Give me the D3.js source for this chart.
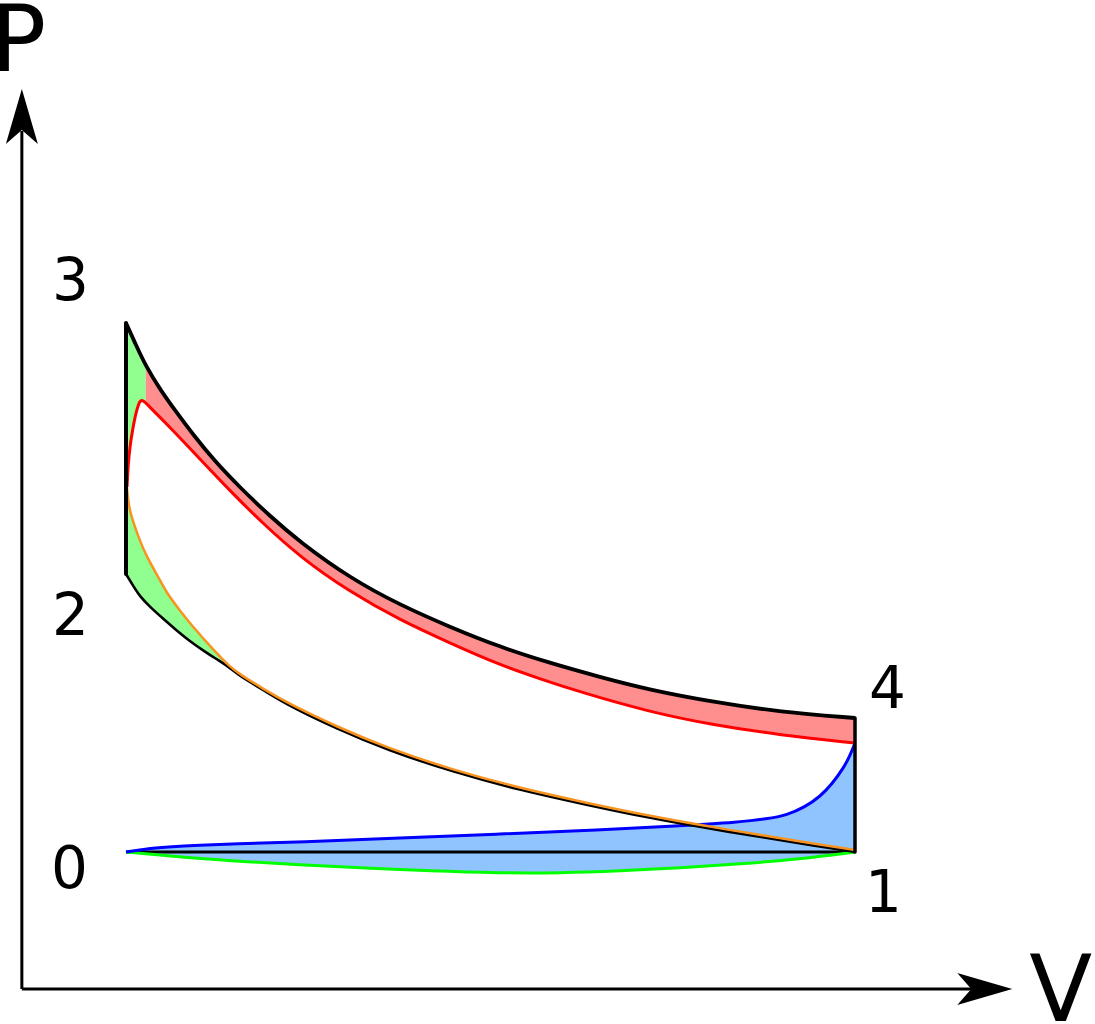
<!DOCTYPE html>
<html>
<head>
<meta charset="utf-8">
<script src="https://cdn.jsdelivr.net/npm/d3@7"></script>
<style>
  body { margin: 0; background: #fff; }
  svg { display: block; }
  text { font-family: "DejaVu Sans", sans-serif; fill: #000; }
</style>
</head>
<body>
<div id="chart"></div>
<script>
// readings, [V, P] pairs
var expansion = [[1.00, 6.66], [1.10, 6.43], [1.19, 6.23], [1.33, 5.99], [1.49, 5.76], [1.64, 5.55],
  [1.85, 5.28], [2.09, 5.02], [2.38, 4.73], [2.67, 4.47], [3.15, 4.11], [3.63, 3.84],
  [4.11, 3.62], [4.59, 3.42], [5.07, 3.26], [5.55, 3.12], [6.03, 2.99], [6.64, 2.87], [7.28, 2.77],
  [8.00, 2.71]];

var compression = [[1.00, 4.15], [1.07, 4.03], [1.13, 3.93], [1.23, 3.82], [1.36, 3.70], [1.48, 3.59],
  [1.61, 3.48], [1.76, 3.37], [1.90, 3.28], [2.00, 3.21], [2.09, 3.13], [2.32, 2.99], [2.55, 2.84],
  [3.03, 2.60], [3.51, 2.39], [4.14, 2.17], [4.78, 1.99], [5.43, 1.84], [6.03, 1.71], [6.51, 1.62],
  [7.15, 1.51], [7.57, 1.44], [8.00, 1.37]];

var realExpansion = [[1.01, 5.02], [1.02, 5.24], [1.04, 5.44], [1.06, 5.57], [1.09, 5.74], [1.12, 5.85],
  [1.14, 5.89], [1.17, 5.88], [1.20, 5.85], [1.42, 5.62], [1.71, 5.30], [2.00, 4.98], [2.29, 4.68],
  [2.67, 4.32], [3.15, 3.97], [3.63, 3.69], [4.11, 3.46], [4.59, 3.24], [4.98, 3.10], [5.36, 2.97],
  [6.03, 2.77], [6.64, 2.64], [7.28, 2.54], [8.00, 2.46]];

var realCompression = [[1.01, 5.01], [1.02, 4.89], [1.04, 4.77], [1.07, 4.67], [1.13, 4.49], [1.20, 4.32],
  [1.30, 4.14], [1.39, 3.96], [1.50, 3.81], [1.61, 3.66], [1.84, 3.39], [2.00, 3.22], [2.09, 3.15],
  [2.32, 3.00], [2.55, 2.86], [3.03, 2.62], [3.51, 2.41], [4.14, 2.19], [4.78, 2.01], [5.43, 1.86],
  [6.03, 1.73], [6.51, 1.64], [7.15, 1.53], [7.57, 1.46], [8.00, 1.39]];

var exhaust = [[1.00, 1.37], [1.18, 1.40], [1.39, 1.42], [1.71, 1.44], [2.03, 1.45], [2.67, 1.47],
  [3.63, 1.51], [4.59, 1.55], [5.55, 1.59], [6.29, 1.63], [6.90, 1.67], [7.15, 1.70], [7.35, 1.74],
  [7.52, 1.82], [7.66, 1.92], [7.78, 2.05], [7.89, 2.21], [7.95, 2.33], [8.00, 2.46]];

var intake = [[1.00, 1.37], [1.52, 1.32], [2.03, 1.28], [2.67, 1.24], [3.31, 1.21], [3.92, 1.18],
  [4.59, 1.16], [5.17, 1.16], [5.74, 1.18], [6.32, 1.21], [6.90, 1.25], [7.47, 1.30], [8.00, 1.37]];

var splitV = 1.19;   // where the green and red shading meet
var rejoinV = 2.00;  // where the orange curve meets the compression line

var pointLabels = [
  { name: "3", v: 1.00, p: 6.66, dx: -74, dy: -23 },
  { name: "2", v: 1.00, p: 4.15, dx: -74, dy: 61 },
  { name: "0", v: 1.00, p: 1.37, dx: -75, dy: 36 },
  { name: "4", v: 8.00, p: 2.71, dx: 14, dy: -10 },
  { name: "1", v: 8.00, p: 1.37, dx: 10, dy: 60 }
];

var W = 1095, H = 1024;
var x = d3.scaleLinear().domain([1, 8]).range([126, 855]);
var y = d3.scaleLinear().domain([0, 9]).range([989, 89]);
var vMax = 9.51, pMax = 9;

var svg = d3.select("#chart").append("svg")
  .attr("width", W).attr("height", H);

// basis spline smooths out the reading noise
var line = d3.line()
  .x(function (d) { return x(d[0]); })
  .y(function (d) { return y(d[1]); })
  .curve(d3.curveBasis);

function interp(pts, v) {
  for (var i = 1; i < pts.length; i++) {
    if (pts[i][0] >= v) {
      var a = pts[i - 1], b = pts[i], t = (v - a[0]) / (b[0] - a[0]);
      return [v, a[1] + t * (b[1] - a[1])];
    }
  }
  return pts[pts.length - 1];
}
function before(pts, v) { return pts.filter(function (d) { return d[0] < v; }).concat([interp(pts, v)]); }
function after(pts, v) { return [interp(pts, v)].concat(pts.filter(function (d) { return d[0] > v; })); }
function rev(pts) { return pts.slice().reverse(); }

// join several curve pieces into one closed path
function joined(pieces) {
  return pieces.map(function (p, i) {
    var s = line(p);
    return i === 0 ? s : s.replace(/^M/, "L");
  }).join("") + "Z";
}

// green: left strip next to the constant volume heat addition
svg.append("path")
  .attr("d", joined([
    before(expansion, splitV),
    [interp(realExpansion, splitV)],
    rev(before(realExpansion, splitV)),
    before(realCompression, rejoinV),
    rev(before(compression, rejoinV))
  ]))
  .attr("fill", "#90ff90");

// red: expansion losses
svg.append("path")
  .attr("d", joined([
    after(expansion, splitV),
    rev(after(realExpansion, splitV))
  ]))
  .attr("fill", "#ff8f8f");

// blue: pumping loop
svg.append("path")
  .attr("d", joined([exhaust, rev(intake)]))
  .attr("fill", "#8fc4ff");

// axes with arrows
var ax0 = x(0), ay0 = y(0);
svg.append("line")
  .attr("x1", ax0).attr("y1", ay0).attr("x2", x(vMax) - 40).attr("y2", ay0)
  .attr("stroke", "#000").attr("stroke-width", 3);
svg.append("line")
  .attr("x1", ax0).attr("y1", ay0).attr("x2", ax0).attr("y2", y(pMax) + 42)
  .attr("stroke", "#000").attr("stroke-width", 3);

function arrow(tx, ty, angle) {
  svg.append("path")
    .attr("d", "M0,0L-55,-16L-41,0L-55,16Z")
    .attr("transform", "translate(" + tx + "," + ty + ") rotate(" + angle + ")")
    .attr("fill", "#000");
}
arrow(x(vMax), ay0, 0);
arrow(ax0, y(pMax), -90);

svg.append("text").attr("x", ax0 - 31).attr("y", y(pMax) - 18)
  .attr("font-size", 92).text("P");
svg.append("text").attr("x", x(vMax) + 17).attr("y", ay0 + 32)
  .attr("font-size", 92).text("V");

// intake/exhaust line 0-1
svg.append("line")
  .attr("x1", x(1)).attr("y1", y(1.37)).attr("x2", x(8)).attr("y2", y(1.37))
  .attr("stroke", "#000").attr("stroke-width", 3);

svg.append("path").attr("d", line(intake))
  .attr("fill", "none").attr("stroke", "#00ff00").attr("stroke-width", 3);
svg.append("path").attr("d", line(exhaust))
  .attr("fill", "none").attr("stroke", "#0000ff").attr("stroke-width", 3);

// ideal cycle
svg.append("path").attr("d", line(compression))
  .attr("fill", "none").attr("stroke", "#000").attr("stroke-width", 2.6);
svg.append("path").attr("d", line(realCompression))
  .attr("fill", "none").attr("stroke", "#f7931e").attr("stroke-width", 2.5);
svg.append("path").attr("d", line(realExpansion))
  .attr("fill", "none").attr("stroke", "#ff0000").attr("stroke-width", 3);
svg.append("path").attr("d", line(expansion))
  .attr("fill", "none").attr("stroke", "#000").attr("stroke-width", 3.8)
  .attr("stroke-linejoin", "round");

svg.append("line")
  .attr("x1", x(1)).attr("y1", y(6.66)).attr("x2", x(1)).attr("y2", y(4.15))
  .attr("stroke", "#000").attr("stroke-width", 4).attr("stroke-linecap", "round");
svg.append("line")
  .attr("x1", x(8)).attr("y1", y(2.71)).attr("x2", x(8)).attr("y2", y(1.37))
  .attr("stroke", "#000").attr("stroke-width", 3.5).attr("stroke-linecap", "round");

svg.selectAll(".pt")
  .data(pointLabels)
  .enter()
  .append("text")
  .attr("class", "pt")
  .attr("x", function (d) { return x(d.v) + d.dx; })
  .attr("y", function (d) { return y(d.p) + d.dy; })
  .attr("font-size", 58)
  .text(function (d) { return d.name; });
</script>
</body>
</html>
